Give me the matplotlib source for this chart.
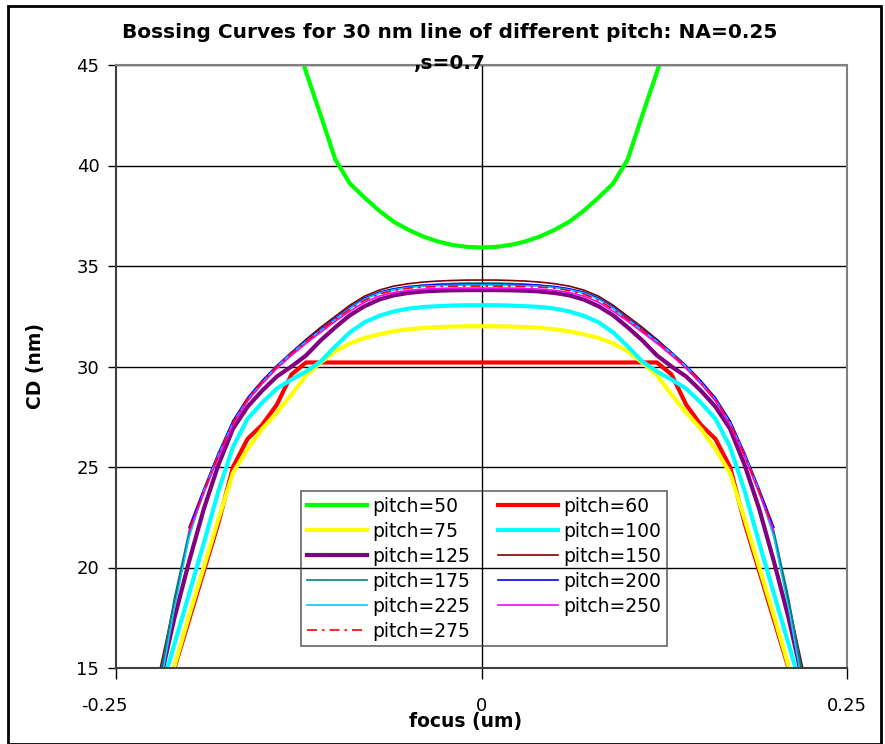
import matplotlib
matplotlib.use('Agg')
import matplotlib.pyplot as plt
from matplotlib.patches import Rectangle
from matplotlib.transforms import ScaledTranslation
import numpy as np

plt.rcParams['font.family'] = ['DejaVu Sans']
plt.rcParams['axes.unicode_minus'] = False

# focus values (um), 0.01 steps
focus = np.round(np.arange(-22, 23) / 100, 2)   # -0.22 .. 0.22
focus_short = focus[2:-2]                       # -0.20 .. 0.20
focus_p50 = focus[9:-9]                         # -0.13 .. 0.13

cd_p50 = [46.9, 44.65, 42.5, 40.3, 39.1, 38.4, 37.75, 37.2, 36.8, 36.47, 36.22, 36.05, 35.95, 35.92,
          35.95, 36.05, 36.22, 36.47, 36.8, 37.2, 37.75, 38.4, 39.1, 40.3, 42.5, 44.65, 46.9]
cd_p60 = [12.6, 15.0, 17.4, 19.8, 22.2, 25.0, 26.4, 27.1, 28.1, 29.6, 30.2, 30.2, 30.2, 30.2, 30.2,
          30.2, 30.2, 30.2, 30.2, 30.2, 30.2, 30.2, 30.2,
          30.2, 30.2, 30.2, 30.2, 30.2, 30.2, 30.2, 30.2, 30.2, 30.2, 30.2, 30.2,
          29.6, 28.1, 27.1, 26.4, 25.0, 22.2, 19.8, 17.4, 15.0, 12.6]
cd_p75 = [12.8, 15.1, 17.6, 20.0, 22.4, 24.7, 25.9, 26.9, 27.7, 28.6, 29.55, 30.2, 30.75, 31.15,
          31.42, 31.6, 31.75, 31.85, 31.92, 31.96, 31.99, 32.0, 32.0,
          32.0, 31.99, 31.96, 31.92, 31.85, 31.75, 31.6, 31.42, 31.15, 30.75, 30.2, 29.55, 28.6,
          27.7, 26.9, 25.9, 24.7, 22.4, 20.0, 17.6, 15.1, 12.8]
cd_p100 = [13.7, 16.2, 18.7, 21.2, 23.8, 26.0, 27.4, 28.2, 28.9, 29.35, 29.75, 30.25, 31.0, 31.7,
           32.2, 32.52, 32.74, 32.88, 32.96, 33.0, 33.03, 33.05, 33.05,
           33.05, 33.03, 33.0, 32.96, 32.88, 32.74, 32.52, 32.2, 31.7, 31.0, 30.25, 29.75, 29.35,
           28.9, 28.2, 27.4, 26.0, 23.8, 21.2, 18.7, 16.2, 13.7]
cd_p125 = [14.3, 17.5, 20.3, 22.9, 25.1, 26.9, 28.0, 28.8, 29.5, 30.0, 30.55, 31.3, 31.95, 32.55,
           33.0, 33.33, 33.54, 33.66, 33.73, 33.77, 33.79, 33.8, 33.8,
           33.8, 33.79, 33.77, 33.73, 33.66, 33.54, 33.33, 33.0, 32.55, 31.95, 31.3, 30.55, 30.0,
           29.5, 28.8, 28.0, 26.9, 25.1, 22.9, 20.3, 17.5, 14.3]
cd_p150 = [14.9, 18.3, 21.6, 23.8, 25.6, 27.2, 28.3, 29.2, 30.0, 30.7, 31.35, 31.95, 32.5, 33.05,
           33.5, 33.8, 34.0, 34.12, 34.2, 34.25, 34.28, 34.3, 34.3,
           34.3, 34.28, 34.25, 34.2, 34.12, 34.0, 33.8, 33.5, 33.05, 32.5, 31.95, 31.35, 30.7,
           30.0, 29.2, 28.3, 27.2, 25.6, 23.8, 21.6, 18.3, 14.9]
cd_p175 = [14.5, 18.5, 21.8, 23.7, 25.6, 27.3, 28.3, 29.15, 29.95, 30.6, 31.2, 31.8, 32.35, 32.9,
           33.4, 33.65, 33.82, 33.95, 34.04, 34.1, 34.13, 34.15, 34.15,
           34.15, 34.13, 34.1, 34.04, 33.95, 33.82, 33.65, 33.4, 32.9, 32.35, 31.8, 31.2, 30.6,
           29.95, 29.15, 28.3, 27.3, 25.6, 23.7, 21.8, 18.5, 14.5]
cd_p200 = [22.0, 23.9, 25.7, 27.3, 28.45, 29.3, 30.05, 30.7, 31.3, 31.85, 32.4, 32.95, 33.4, 33.7,
           33.87, 33.98, 34.04, 34.07, 34.09, 34.1, 34.1,
           34.1, 34.09, 34.07, 34.04, 33.98, 33.87, 33.7, 33.4, 32.95, 32.4, 31.85, 31.3, 30.7,
           30.05, 29.3, 28.45, 27.3, 25.7, 23.9, 22.0]
cd_p225 = [14.0, 18.0, 21.5, 23.8, 25.6, 27.2, 28.35, 29.2, 30.0, 30.65, 31.25, 31.8, 32.35, 32.9,
           33.35, 33.65, 33.82, 33.93, 33.99, 34.02, 34.04, 34.05, 34.05,
           34.05, 34.04, 34.02, 33.99, 33.93, 33.82, 33.65, 33.35, 32.9, 32.35, 31.8, 31.25, 30.65,
           30.0, 29.2, 28.35, 27.2, 25.6, 23.8, 21.5, 18.0, 14.0]
cd_p250 = [21.8, 23.7, 25.5, 27.1, 28.3, 29.15, 29.9, 30.55, 31.15, 31.7, 32.25, 32.75, 33.2, 33.5,
           33.68, 33.79, 33.85, 33.88, 33.9, 33.9, 33.9,
           33.9, 33.9, 33.88, 33.85, 33.79, 33.68, 33.5, 33.2, 32.75, 32.25, 31.7, 31.15, 30.55,
           29.9, 29.15, 28.3, 27.1, 25.5, 23.7, 21.8]
cd_p275 = [21.9, 23.8, 25.6, 27.2, 28.4, 29.25, 30.0, 30.65, 31.25, 31.8, 32.35, 32.85, 33.3, 33.6,
           33.78, 33.9, 33.95, 33.98, 34.0, 34.0, 34.0,
           34.0, 34.0, 33.98, 33.95, 33.9, 33.78, 33.6, 33.3, 32.85, 32.35, 31.8, 31.25, 30.65,
           30.0, 29.25, 28.4, 27.2, 25.6, 23.8, 21.9]

W, H = 885, 744
fig = plt.figure(figsize=(W / 100, H / 100), dpi=100)
ax = fig.add_axes([116 / W, 1 - 668 / H, (847 - 116) / W, (668 - 65) / H])

lines = {}
lines[50] = ax.plot(focus_p50, cd_p50, color='#00ff00', lw=3.0, label='pitch=50')[0]
lines[60] = ax.plot(focus, cd_p60, color='#ff0000', lw=3.0, label='pitch=60')[0]
lines[75] = ax.plot(focus, cd_p75, color='#ffff00', lw=3.0, label='pitch=75')[0]
lines[100] = ax.plot(focus, cd_p100, color='#00ffff', lw=3.0, label='pitch=100')[0]
lines[125] = ax.plot(focus, cd_p125, color='#800080', lw=3.0, label='pitch=125')[0]
lines[150] = ax.plot(focus, cd_p150, color='#800000', lw=1.2, label='pitch=150')[0]
lines[175] = ax.plot(focus, cd_p175, color='#008080', lw=1.2, label='pitch=175')[0]
lines[200] = ax.plot(focus_short, cd_p200, color='#0000ff', lw=1.2, label='pitch=200')[0]
lines[225] = ax.plot(focus, cd_p225, color='#00ccff', lw=1.2, label='pitch=225')[0]
lines[250] = ax.plot(focus_short, cd_p250, color='#ff00ff', lw=1.2, label='pitch=250')[0]
lines[275] = ax.plot(focus_short, cd_p275, color='#ff0000', lw=1.2, ls=(0, (6, 3, 1.5, 3)),
                     label='pitch=275')[0]

ax.set_xlim(-0.25, 0.25)
ax.set_ylim(15, 45)
ax.set_xticks([-0.25, 0, 0.25])
ax.set_xticklabels(['-0.25', '0', '0.25'])
ax.set_yticks([15, 20, 25, 30, 35, 40, 45])
ax.tick_params(axis='y', direction='out', length=6, width=1, labelsize=13, pad=6)
ax.tick_params(axis='x', direction='out', length=8, width=1, labelsize=13, pad=13)
# the "-0.25" label sits a little left of its tick in the original
first = ax.get_xticklabels()[0]
first.set_transform(first.get_transform() + ScaledTranslation(-12 / 100, 0, fig.dpi_scale_trans))
ax.grid(axis='y', color='black', lw=1)
ax.axvline(0, color='black', lw=1, zorder=0.5)
ax.set_axisbelow(True)
for s in ['top', 'right']:
    ax.spines[s].set_color('#808080')
    ax.spines[s].set_linewidth(1.5)
for s in ['left', 'bottom']:
    ax.spines[s].set_color('#404040')
    ax.spines[s].set_linewidth(1.5)

order = [50, 75, 125, 175, 225, 275, 60, 100, 150, 200, 250]
leg = ax.legend([lines[k] for k in order], [lines[k].get_label() for k in order],
                ncol=2, loc='lower left', bbox_to_anchor=(0.253, 0.036, 0.501, 0.257),
                mode='expand', fontsize=13.5, frameon=True, fancybox=False,
                handlelength=3.2, handletextpad=0.3, labelspacing=0.32,
                columnspacing=0.8, borderpad=0.3, borderaxespad=0)
leg.get_frame().set_facecolor('none')
leg.get_frame().set_edgecolor('#404040')
leg.get_frame().set_linewidth(1.2)

fig.text(450 / W, 1 - 33 / H, 'Bossing Curves for 30 nm line of different pitch: NA=0.25',
         ha='center', va='center', fontsize=14.5, fontweight='bold')
fig.text(450 / W, 1 - 63 / H, ',s=0.7', ha='center', va='center', fontsize=14.5,
         fontweight='bold')
fig.text(466 / W, 1 - 722 / H, 'focus (um)', ha='center', va='center', fontsize=13.5,
         fontweight='bold')
fig.text(35 / W, 1 - 366 / H, 'CD (nm)', ha='center', va='center', rotation=90,
         fontsize=13.5, fontweight='bold')

fig.patches.append(Rectangle((8 / W, 0), 873 / W, 1 - 6 / H, transform=fig.transFigure,
                             fill=False, edgecolor='black', lw=2))

fig.savefig('out.png', dpi=100)
